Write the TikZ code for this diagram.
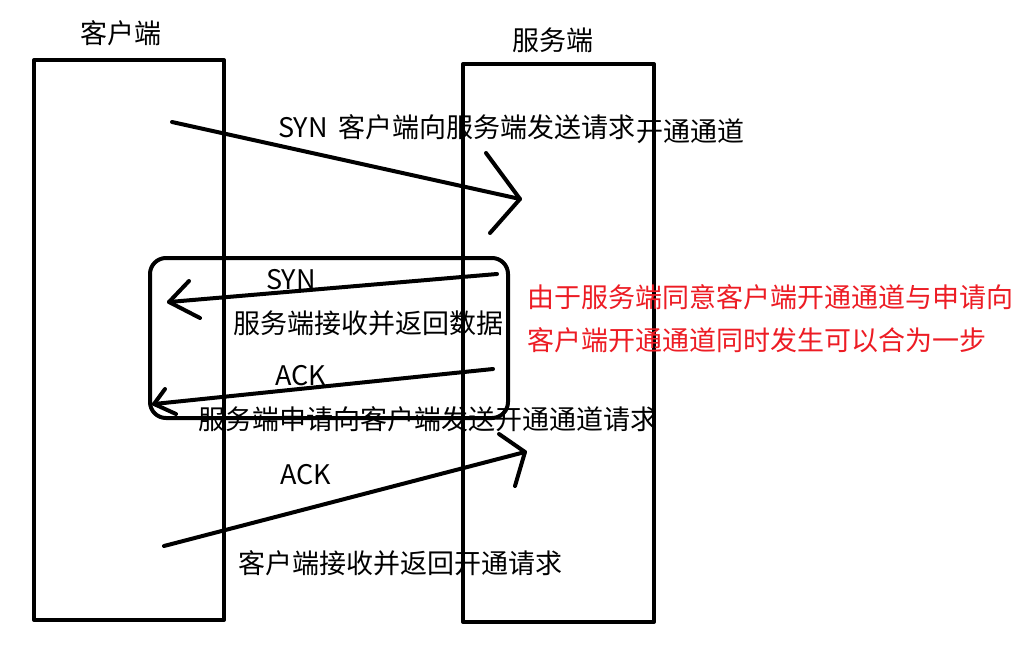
\documentclass[tikz,border=0pt]{standalone}
\usepackage{fontspec}
\setmainfont{Noto Sans CJK SC}
\definecolor{paintred}{RGB}{237,28,36}
\begin{document}
\begin{tikzpicture}[x=1pt,y=-1pt,line cap=round,line join=round,
  stroke/.style={line width=4pt},
  lifeline/.style={draw,line width=4pt,inner sep=0pt,outer sep=0pt,anchor=north west},
  lbl/.style={font=\fontsize{27}{30}\selectfont,inner sep=0pt,anchor=west},
  notelbl/.style={lbl,text=paintred}]
\useasboundingbox[fill=white] (0,0) rectangle (1036,648);
% lifelines
\node[lifeline,minimum width=190pt,minimum height=560pt] (client) at (34,60) {};
\node[lifeline,minimum width=191pt,minimum height=558pt] (server) at (463,64) {};
\node[font=\fontsize{27}{30}\selectfont,inner sep=0pt] (ctitle) at (121,33) {客户端};
\node[font=\fontsize{27}{30}\selectfont,inner sep=0pt] (stitle) at (553,40) {服务端};
% grouping box
\node[draw,line width=4pt,rounded corners=16pt,inner sep=0pt,outer sep=0pt,anchor=north west,
  minimum width=358pt,minimum height=160pt] (group) at (150,258) {};
% arrow 1
\coordinate (a1s) at (172,122); \coordinate (a1e) at (520,199);
\coordinate (a1u) at (486,153); \coordinate (a1d) at (490,233);
\draw[stroke] (a1s) -- (a1e); \draw[stroke] (a1u) -- (a1e) -- (a1d);
\node[lbl] (l1) at (278,127) {SYN\, 客户端向服务端发送请求};
\node[lbl] (l1b) at (636,131) {开通通道};
% arrow 2
\coordinate (a2s) at (497,274); \coordinate (a2e) at (169,302);
\coordinate (a2u) at (189,281); \coordinate (a2d) at (200,318);
\draw[stroke] (a2s) -- (a2e); \draw[stroke] (a2u) -- (a2e) -- (a2d);
\node[lbl] (l2) at (266,280) {SYN};
\node[lbl] (l2b) at (233,323) {服务端接收并返回数据};
% arrow 3
\coordinate (a3s) at (493,369); \coordinate (a3e) at (154,404);
\coordinate (a3u) at (165,389); \coordinate (a3d) at (176,414);
\draw[stroke] (a3s) -- (a3e); \draw[stroke] (a3u) -- (a3e) -- (a3d);
\node[lbl] (l3) at (275,376) {ACK};
\node[lbl] (l3b) at (198,419) {服务端申请向客户端发送开通通道请求};
% arrow 4
\coordinate (a4s) at (164,546); \coordinate (a4e) at (525,452);
\coordinate (a4u) at (499,434); \coordinate (a4d) at (515,486);
\draw[stroke] (a4s) -- (a4e); \draw[stroke] (a4u) -- (a4e) -- (a4d);
\node[lbl] (l4) at (280,475) {ACK};
\node[lbl] (l4b) at (238,563) {客户端接收并返回开通请求};
% note
\node[notelbl] (n1) at (527,297) {由于服务端同意客户端开通通道与申请向};
\node[notelbl] (n2) at (527,340) {客户端开通通道同时发生可以合为一步};
\end{tikzpicture}
\end{document}
